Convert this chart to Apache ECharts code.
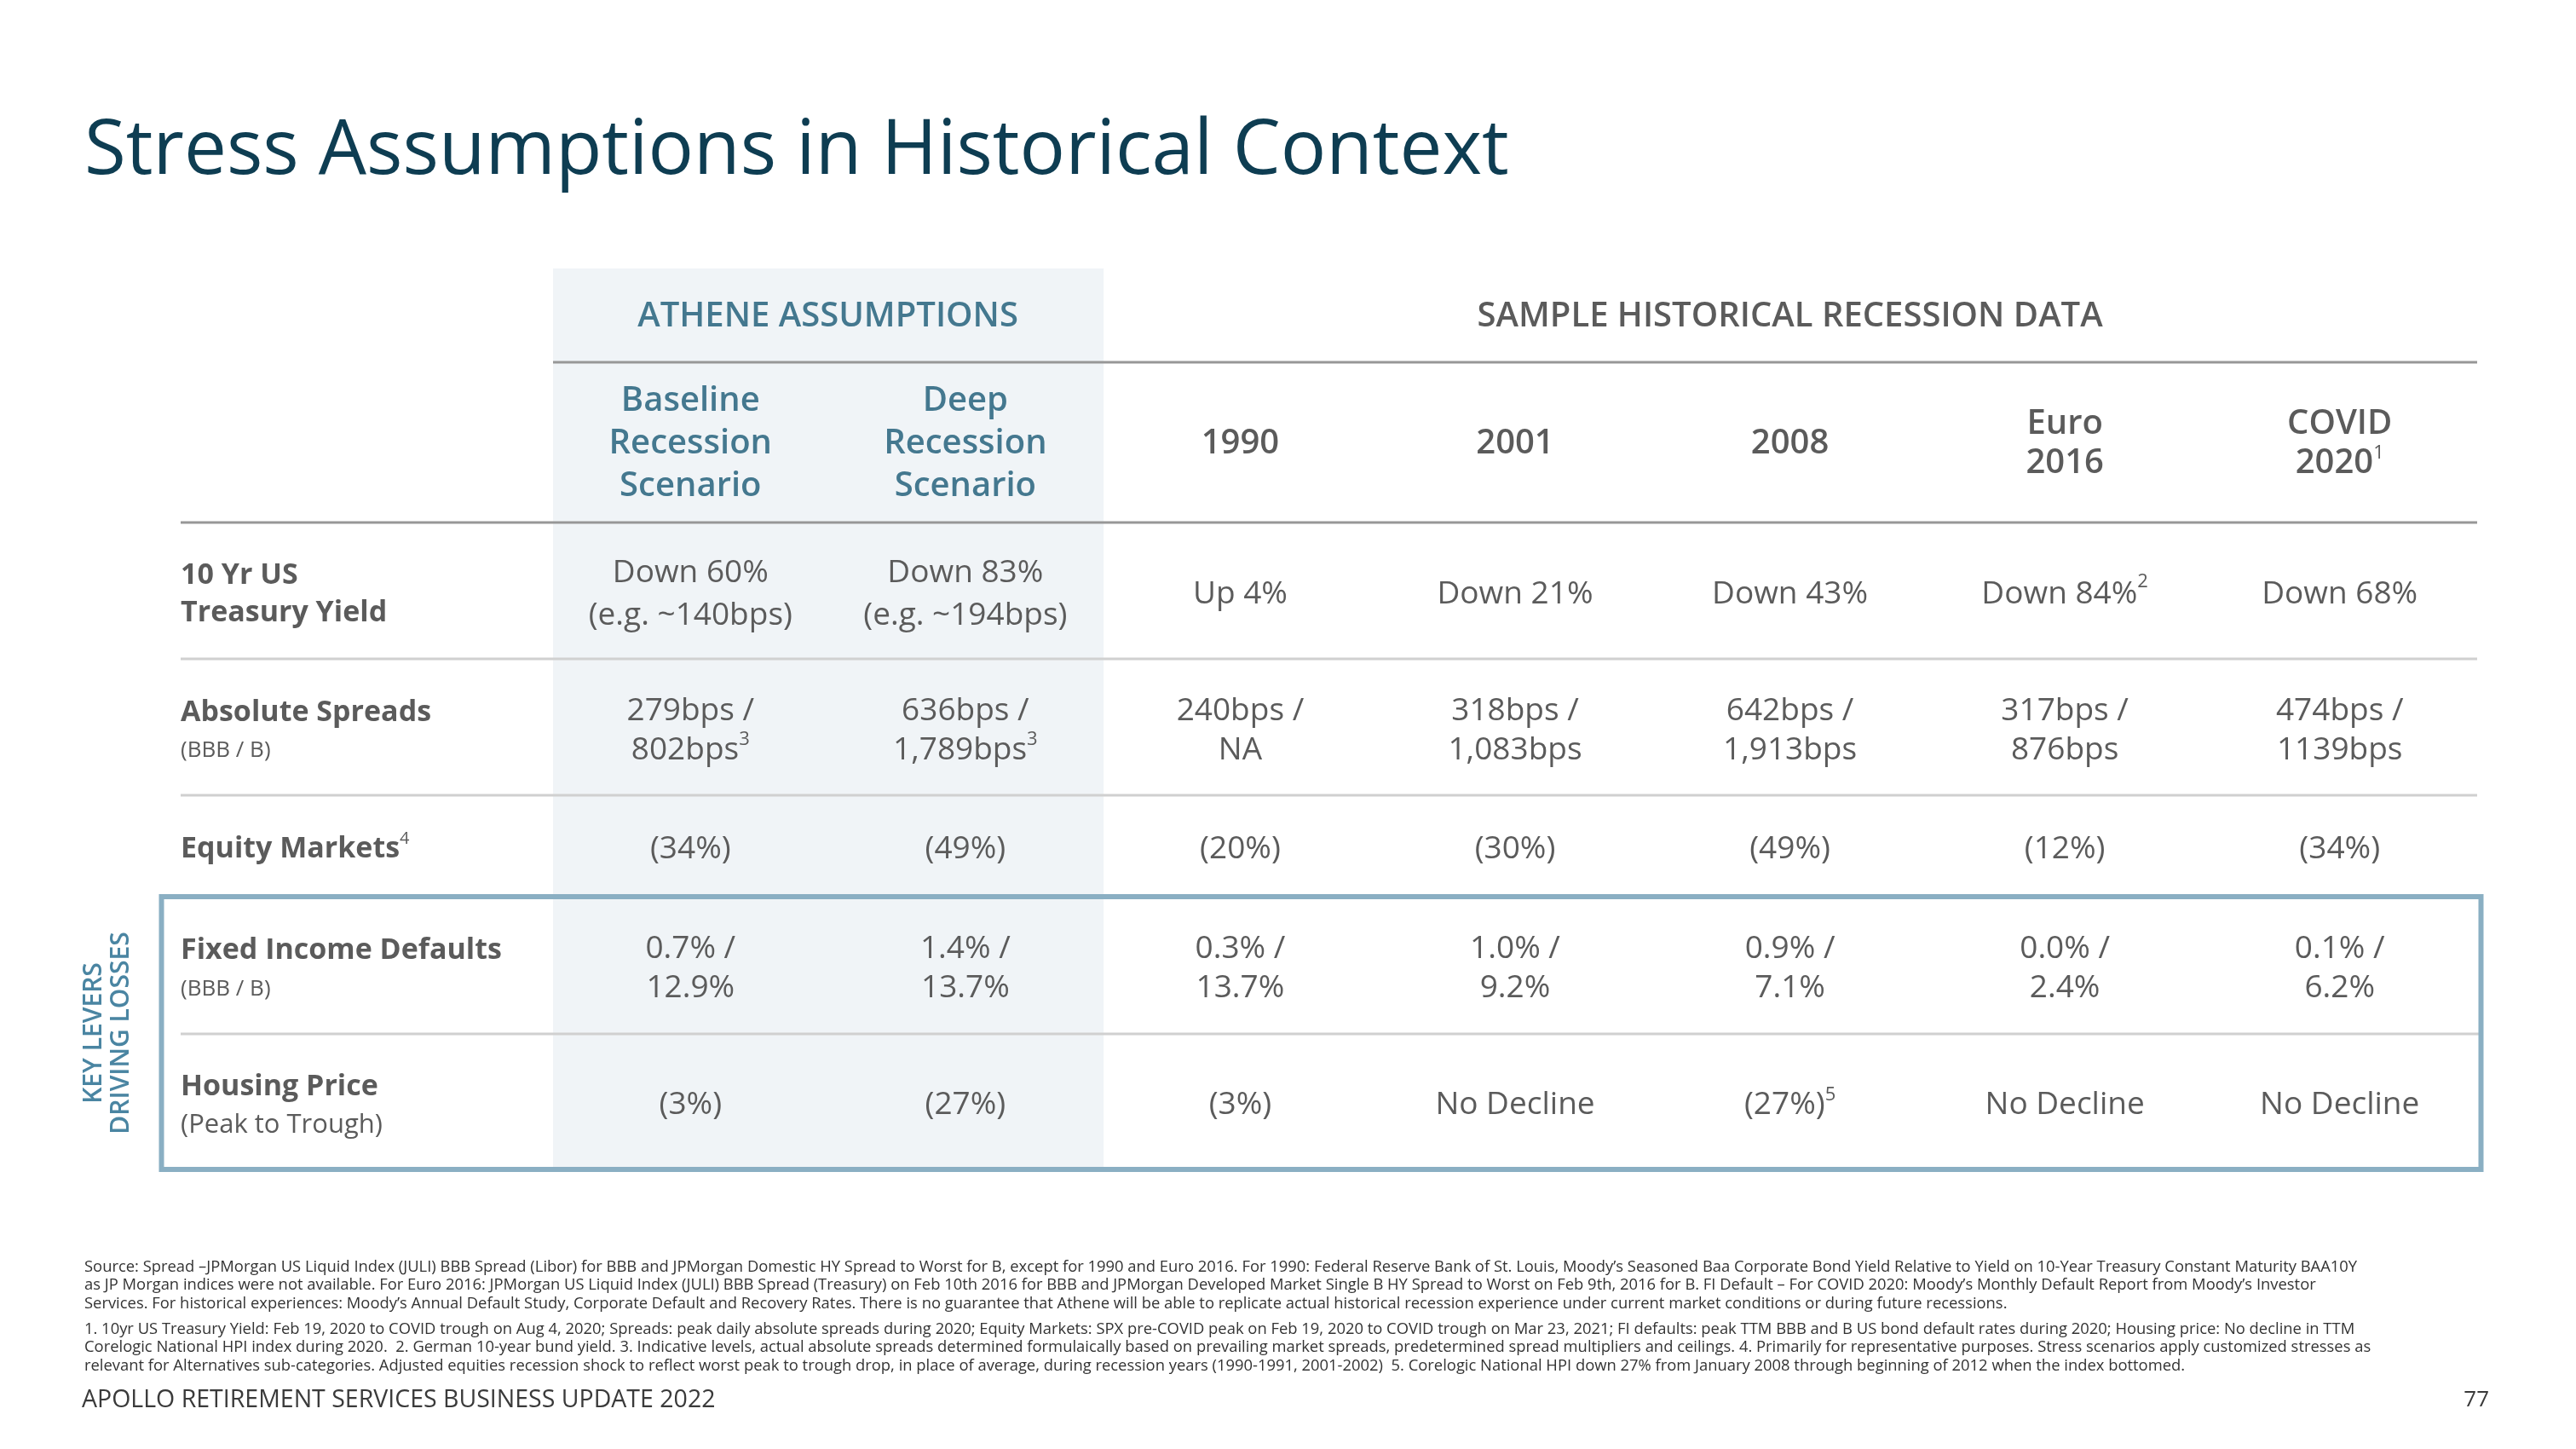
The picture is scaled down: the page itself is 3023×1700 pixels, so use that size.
<!DOCTYPE html>
<html>
<head>
<meta charset="utf-8">
<script src="https://cdn.jsdelivr.net/npm/echarts@6/dist/echarts.min.js"></script>
<style>html,body{margin:0;padding:0;background:#fff}#c{width:3023px;height:1700px}</style>
</head>
<body>
<div id="c"></div>
<script>
// ---------------- DATA ----------------
const title = 'Stress Assumptions in Historical Context';
const groupNames = ['ATHENE ASSUMPTIONS', 'SAMPLE HISTORICAL RECESSION DATA'];
const groupSpans = [[0, 1], [2, 6]];
const columns = ['Baseline\nRecession\nScenario', 'Deep\nRecession\nScenario', '1990', '2001', '2008', 'Euro\n2016', 'COVID\n2020^1'];
const rowLabels = ['10 Yr US\nTreasury Yield', 'Absolute Spreads', 'Equity Markets^4', 'Fixed Income Defaults', 'Housing Price'];
const rowSubLabels = ['', '(BBB / B)', '', '(BBB / B)', '(Peak to Trough)'];
const treasuryYield = ['Down 60%\n(e.g. ~140bps)', 'Down 83%\n(e.g. ~194bps)', 'Up 4%', 'Down 21%', 'Down 43%', 'Down 84%^2', 'Down 68%'];
const absoluteSpreads = ['279bps /\n802bps^3', '636bps /\n1,789bps^3', '240bps /\nNA', '318bps /\n1,083bps', '642bps /\n1,913bps', '317bps /\n876bps', '474bps /\n1139bps'];
const equityMarkets = ['(34%)', '(49%)', '(20%)', '(30%)', '(49%)', '(12%)', '(34%)'];
const fixedIncomeDefaults = ['0.7% /\n12.9%', '1.4% /\n13.7%', '0.3% /\n13.7%', '1.0% /\n9.2%', '0.9% /\n7.1%', '0.0% /\n2.4%', '0.1% /\n6.2%'];
const housingPrice = ['(3%)', '(27%)', '(3%)', 'No Decline', '(27%)^5', 'No Decline', 'No Decline'];
const sideLabel = 'KEY LEVERS\nDRIVING LOSSES';
const sourceNote = [
  'Source: Spread \u2013JPMorgan US Liquid Index (JULI) BBB Spread (Libor) for BBB and JPMorgan Domestic HY Spread to Worst for B, except for 1990 and Euro 2016. For 1990: Federal Reserve Bank of St. Louis, Moody\u2019s Seasoned Baa Corporate Bond Yield Relative to Yield on 10-Year Treasury Constant Maturity BAA10Y',
  'as JP Morgan indices were not available. For Euro 2016: JPMorgan US Liquid Index (JULI) BBB Spread (Treasury) on Feb 10th 2016 for BBB and JPMorgan Developed Market Single B HY Spread to Worst on Feb 9th, 2016 for B. FI Default \u2013 For COVID 2020: Moody\u2019s Monthly Default Report from Moody\u2019s Investor',
  'Services. For historical experiences: Moody\u2019s Annual Default Study, Corporate Default and Recovery Rates. There is no guarantee that Athene will be able to replicate actual historical recession experience under current market conditions or during future recessions.'
];
const footnotes = [
  '1. 10yr US Treasury Yield: Feb 19, 2020 to COVID trough on Aug 4, 2020; Spreads: peak daily absolute spreads during 2020; Equity Markets: SPX pre-COVID peak on Feb 19, 2020 to COVID trough on Mar 23, 2021; FI defaults: peak TTM BBB and B US bond default rates during 2020; Housing price: No decline in TTM',
  'Corelogic National HPI index during 2020.  2. German 10-year bund yield. 3. Indicative levels, actual absolute spreads determined formulaically based on prevailing market spreads, predetermined spread multipliers and ceilings. 4. Primarily for representative purposes. Stress scenarios apply customized stresses as',
  'relevant for Alternatives sub-categories. Adjusted equities recession shock to reflect worst peak to trough drop, in place of average, during recession years (1990-1991, 2001-2002)  5. Corelogic National HPI down 27% from January 2008 through beginning of 2012 when the index bottomed.'
];
const footer = 'APOLLO RETIREMENT SERVICES BUSINESS UPDATE 2022';
const pageNumber = '77';

const bodyRows = [treasuryYield, absoluteSpreads, equityMarkets, fixedIncomeDefaults, housingPrice];

// ---------------- LAYOUT / STYLE ----------------
const FONT = '"Open Sans", "Noto Sans", sans-serif';
const C_TEXT = '#5b5b5b';
const C_TEAL = '#44788f';
const C_SIDE = '#4a85a2';
const C_TITLE = '#0e3d52';
const C_SHADE = '#f0f4f7';
const C_RULE_DARK = '#979797';
const C_RULE_LIGHT = '#d0d0d0';
const C_BOX = '#8aafc3';
const ROW_H = [110, 188, 160, 160, 119, 161, 159]; // 2 header rows + 5 body rows
const ROW_TOP = [];
let TABLE_H = 0;
ROW_H.forEach(h => { ROW_TOP.push(TABLE_H); TABLE_H += h; });
const LABEL_INSET = 437;
const BOX_ROW = 5;
const SUB_SIZE = [0, 26, 0, 26, 31];
const BODY_SHIFT = 4;

function sup(s) { return s.replace(/\^(\d)/g, '{sup|$1}'); }
function rowMid(i) { return ROW_TOP[i] + ROW_H[i] / 2; }

const SUP_VAL = { fontSize: 22, lineHeight: 36, verticalAlign: 'top', fontFamily: FONT, fontWeight: 400 };

const chart = echarts.init(document.getElementById('c'), null, { renderer: 'canvas', width: 3023, height: 1700 });

function bandInfo(api) {
  const bw = api.size([1, 0])[0];
  const left = api.coord([0, 0])[0] - bw / 2;
  const right = api.coord([columns.length - 1, 0])[0] + bw / 2;
  return { bw, left, right, labelX: left - LABEL_INSET };
}

function boldLine(s) {
  const m = s.match(/^(.*?)\^(\d)$/);
  if (m) return '{b|' + m[1] + '}{sup|' + m[2] + '}';
  return '{b|' + s + '}';
}

const cellData = [];
bodyRows.forEach((row, r) => row.forEach((v, c) => cellData.push([c, r])));

const option = {
  animation: false,
  backgroundColor: '#ffffff',
  grid: { left: 649, right: 116, top: 315, bottom: 328 },
  xAxis: { type: 'category', data: columns, show: false, boundaryGap: true },
  yAxis: { type: 'value', min: 0, max: TABLE_H, inverse: true, show: false },
  graphic: [
    { type: 'text', x: 99, y: 179, silent: true,
      style: { text: title, fontFamily: FONT, fontSize: 89, fontWeight: 400, fill: C_TITLE, verticalAlign: 'middle', align: 'left' } },
    { type: 'text', x: 99, y: 1476, silent: true,
      style: { text: sourceNote.join('\n'), fontFamily: FONT, fontSize: 18.4, lineHeight: 21.5, fill: '#333333', verticalAlign: 'top', align: 'left' } },
    { type: 'text', x: 99, y: 1549, silent: true,
      style: { text: footnotes.join('\n'), fontFamily: FONT, fontSize: 18.4, lineHeight: 21.5, fill: '#333333', verticalAlign: 'top', align: 'left' } },
    { type: 'text', x: 96, y: 1643, silent: true,
      style: { text: footer, fontFamily: FONT, fontSize: 28.5, fill: '#3a3a3a', verticalAlign: 'middle', align: 'left' } },
    { type: 'text', x: 2921, y: 1643, silent: true,
      style: { text: pageNumber, fontFamily: FONT, fontSize: 26, fill: '#3a3a3a', verticalAlign: 'middle', align: 'right' } }
  ],
  series: [
    { // shaded Athene columns
      type: 'custom', silent: true, clip: false, z: 1,
      data: [[0, 0], [1, 0]],
      renderItem: function (params, api) {
        const c = api.value(0);
        const bw = api.size([1, 0])[0];
        const p0 = api.coord([c, 0]);
        const p1 = api.coord([c, TABLE_H]);
        return { type: 'rect', shape: { x: p0[0] - bw / 2, y: p0[1], width: bw + 1, height: p1[1] - p0[1] }, style: { fill: C_SHADE } };
      }
    },
    { // rules, box, side label
      type: 'custom', silent: true, clip: false, z: 2,
      data: [[0, 0]],
      renderItem: function (params, api) {
        const b = bandInfo(api);
        const y = i => api.coord([0, ROW_TOP[i]])[1];
        const yEnd = api.coord([0, TABLE_H])[1];
        const line = (x1, x2, yy, col) => ({ type: 'line', shape: { x1, y1: yy, x2, y2: yy }, style: { stroke: col, lineWidth: 3 } });
        const children = [
          line(b.left, b.right, y(1), C_RULE_DARK),
          line(b.labelX, b.right, y(2), C_RULE_DARK),
          line(b.labelX, b.right, y(3), C_RULE_LIGHT),
          line(b.labelX, b.right, y(4), C_RULE_LIGHT),
          line(b.labelX, b.right + 2, y(6), C_RULE_LIGHT),
          { type: 'rect', shape: { x: b.labelX - 22.5, y: y(BOX_ROW), width: b.right + 4.5 - (b.labelX - 22.5), height: yEnd - y(BOX_ROW) },
            style: { fill: 'none', stroke: C_BOX, lineWidth: 6 } },
          { type: 'text', x: b.labelX - 86, y: (y(BOX_ROW) + yEnd) / 2, rotation: Math.PI / 2,
            style: { text: sideLabel, fontFamily: FONT, fontSize: 30, fontWeight: 600, lineHeight: 32, fill: C_SIDE, align: 'center', verticalAlign: 'middle' } }
        ];
        return { type: 'group', children };
      }
    },
    { // group headers
      type: 'custom', silent: true, clip: false, z: 3,
      data: groupSpans.map((s, i) => [s[0], s[1], i]),
      renderItem: function (params, api) {
        const a = api.coord([api.value(0), rowMid(0)]);
        const bb = api.coord([api.value(1), rowMid(0)]);
        const i = api.value(2);
        return { type: 'text', x: (a[0] + bb[0]) / 2, y: a[1] + 2,
          style: { text: groupNames[i], fontFamily: FONT, fontSize: 40, fontWeight: 600, fill: i === 0 ? C_TEAL : C_TEXT, align: 'center', verticalAlign: 'middle' } };
      }
    },
    { // column headers
      type: 'custom', silent: true, clip: false, z: 3,
      data: columns.map((c, i) => [i, 1]),
      renderItem: function (params, api) {
        const c = api.value(0);
        const p = api.coord([c, rowMid(1)]);
        const teal = c < 2;
        return { type: 'text', x: p[0], y: p[1] + 2,
          style: { text: sup(columns[c]), fontFamily: FONT, fontSize: 40, fontWeight: 600, lineHeight: teal ? 50 : 46,
            fill: teal ? C_TEAL : C_TEXT, align: 'center', verticalAlign: 'middle',
            rich: { sup: { fontSize: 22, lineHeight: 36, verticalAlign: 'top', fontFamily: FONT, fontWeight: 400 } } } };
      }
    },
    { // row labels
      type: 'custom', silent: true, clip: false, z: 3,
      data: rowLabels.map((l, r) => [0, r]),
      renderItem: function (params, api) {
        const r = api.value(1);
        const b = bandInfo(api);
        const p = api.coord([0, rowMid(r + 2)]);
        let txt = rowLabels[r].split('\n').map(boldLine).join('\n');
        if (rowSubLabels[r]) txt += '\n{s|' + rowSubLabels[r] + '}';
        return { type: 'text', x: b.labelX, y: p[1] + BODY_SHIFT + (rowSubLabels[r] ? 2 : 0),
          style: { text: txt, fill: C_TEXT, align: 'left', verticalAlign: 'middle', fontFamily: FONT, fontSize: 34,
            rich: {
              b: { fontFamily: FONT, fontSize: 34, fontWeight: 700, lineHeight: 44 },
              s: { fontFamily: FONT, fontSize: SUB_SIZE[r] || 26, fontWeight: 400, lineHeight: 46 },
              sup: { fontFamily: FONT, fontSize: 20, fontWeight: 400, lineHeight: 30, verticalAlign: 'top' }
            } } };
      }
    },
    { // body cells
      type: 'custom', silent: true, clip: false, z: 3,
      data: cellData,
      renderItem: function (params, api) {
        const c = api.value(0), r = api.value(1);
        const p = api.coord([c, rowMid(r + 2)]);
        return { type: 'text', x: p[0], y: p[1] + BODY_SHIFT,
          style: { text: sup(bodyRows[r][c]), fontFamily: FONT, fontSize: 37, fontWeight: 400, lineHeight: r === 0 ? 50 : 46,
            fill: C_TEXT, align: 'center', verticalAlign: 'middle', rich: { sup: SUP_VAL } } };
      }
    }
  ]
};
chart.setOption(option);
</script>
</body>
</html>
